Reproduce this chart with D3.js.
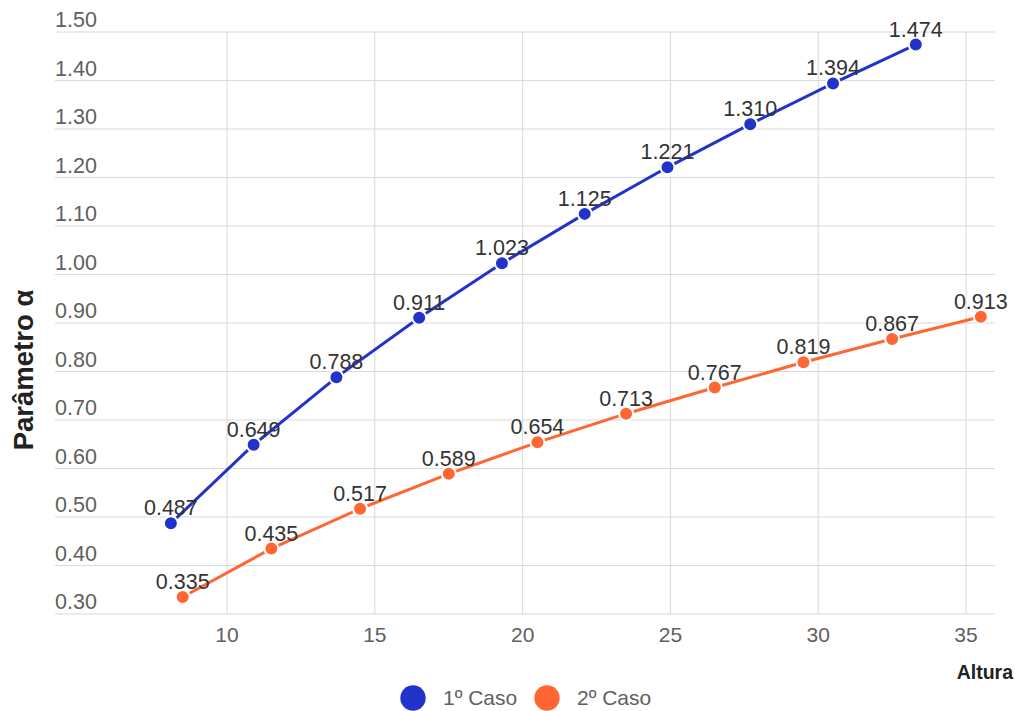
<!DOCTYPE html>
<html><head><meta charset="utf-8">
<script src="https://cdn.jsdelivr.net/npm/d3@7"></script>
<style>body{margin:0;background:#fff;font-family:"Liberation Sans", Arial, sans-serif;}</style>
</head><body>
<svg id="c" width="1015" height="711" style="font-family:'Liberation Sans', Arial, sans-serif"></svg>
<script>
const seriesNames = ["1º Caso", "2º Caso"];
const seriesColors = ["#2233cc", "#ff6633"];
const case1X = [8.1, 10.9, 13.7, 16.5, 19.3, 22.1, 24.9, 27.7, 30.5, 33.3];
const case1Y = [0.487, 0.649, 0.788, 0.911, 1.023, 1.125, 1.221, 1.310, 1.394, 1.474];
const case2X = [8.5, 11.5, 14.5, 17.5, 20.5, 23.5, 26.5, 29.5, 32.5, 35.5];
const case2Y = [0.335, 0.435, 0.517, 0.589, 0.654, 0.713, 0.767, 0.819, 0.867, 0.913];
const xTicks = [10, 15, 20, 25, 30, 35];
const yTicks = [0.30, 0.40, 0.50, 0.60, 0.70, 0.80, 0.90, 1.00, 1.10, 1.20, 1.30, 1.40, 1.50];

const svg = d3.select("#c");
const L = 55, R = 995, T = 32, B = 614;
const x = d3.scaleLinear().domain([4.18, 35.98]).range([L, R]);
const y = d3.scaleLinear().domain([0.30, 1.50]).range([B, T]);

svg.append("g").selectAll("line").data(yTicks).join("line")
  .attr("x1", L).attr("x2", R).attr("y1", d => y(d)).attr("y2", d => y(d))
  .attr("stroke", "#d9d9d9").attr("stroke-width", 1);
svg.append("g").selectAll("line").data(xTicks).join("line")
  .attr("x1", d => x(d)).attr("x2", d => x(d)).attr("y1", T).attr("y2", B)
  .attr("stroke", "#d9d9d9").attr("stroke-width", 1);

svg.append("g").selectAll("text").data(yTicks).join("text")
  .attr("x", L).attr("y", d => y(d) - 5)
  .attr("font-size", 21.5).attr("fill", "#606060")
  .text(d => d.toFixed(2));
svg.append("g").selectAll("text").data(xTicks).join("text")
  .attr("x", d => x(d)).attr("y", B + 28).attr("text-anchor", "middle")
  .attr("font-size", 21).attr("fill", "#606060")
  .text(d => d);

svg.append("text").attr("transform", "translate(33,370) rotate(-90)")
  .attr("text-anchor", "middle").attr("font-size", 27.5).attr("font-weight", "bold")
  .attr("fill", "#222").text("Parâmetro α");
svg.append("text").attr("x", 1013).attr("y", 679).attr("text-anchor", "end")
  .attr("font-size", 19.5).attr("font-weight", "bold").attr("fill", "#222").text("Altura");

const series = [
  {name: seriesNames[0], color: seriesColors[0], pts: case1X.map((v, i) => [v, case1Y[i]])},
  {name: seriesNames[1], color: seriesColors[1], pts: case2X.map((v, i) => [v, case2Y[i]])}
];
const line = d3.line().x(d => x(d[0])).y(d => y(d[1]));
series.forEach(s => {
  const g = svg.append("g");
  g.append("path").attr("d", line(s.pts)).attr("fill", "none")
    .attr("stroke", s.color).attr("stroke-width", 3);
  g.selectAll("circle").data(s.pts).join("circle")
    .attr("cx", d => x(d[0])).attr("cy", d => y(d[1])).attr("r", 7)
    .attr("fill", s.color).attr("stroke", "#fff").attr("stroke-width", 2);
  g.selectAll("text").data(s.pts).join("text")
    .attr("x", d => x(d[0])).attr("y", d => y(d[1]) - 8)
    .attr("text-anchor", "middle").attr("font-size", 21.5).attr("fill", "#333")
    .text(d => d[1].toFixed(3));
});

const lg = svg.append("g");
const legendX = [413, 547];
series.forEach((s, i) => {
  lg.append("circle").attr("cx", legendX[i]).attr("cy", 698).attr("r", 12.7).attr("fill", s.color);
  lg.append("text").attr("x", legendX[i] + 30).attr("y", 705).attr("font-size", 21)
    .attr("fill", "#606060").text(s.name);
});
</script>
</body></html>
